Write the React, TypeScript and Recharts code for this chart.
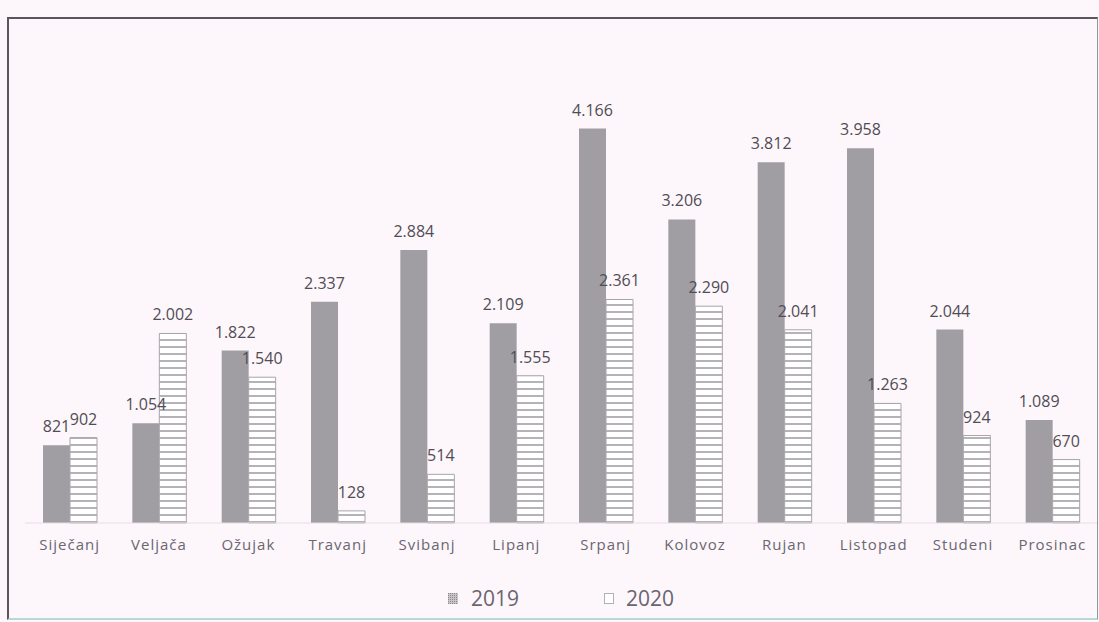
import { BarChart, Bar, XAxis, YAxis, LabelList, Legend } from 'recharts'

const months = ['Siječanj', 'Veljača', 'Ožujak', 'Travanj', 'Svibanj', 'Lipanj', 'Srpanj', 'Kolovoz', 'Rujan', 'Listopad', 'Studeni', 'Prosinac']
const values2019 = [821, 1054, 1822, 2337, 2884, 2109, 4166, 3206, 3812, 3958, 2044, 1089]
const values2020 = [902, 2002, 1540, 128, 514, 1555, 2361, 2290, 2041, 1263, 924, 670]
const yDomain = [0, 4500]

const data = months.map((month, i) => ({
  month,
  y2019: values2019[i],
  y2020: values2020[i],
}))

const FONT = '"Open Sans", "DejaVu Sans", sans-serif'
const BG = '#fdf7fb'
const GREY = '#a09da3'

// 1234 -> "1.234"
const formatValue = (v: number) => String(v).replace(/\B(?=(\d{3})+(?!\d))/g, '.')

const LegendContent = () => (
  <div style={{ display: 'flex', justifyContent: 'center', alignItems: 'center', gap: 85, fontFamily: FONT, fontSize: 21, color: '#6a6570' }}>
    <div style={{ display: 'flex', alignItems: 'center', gap: 13 }}>
      <svg width={10} height={11}>
        <rect x={0} y={0} width={10} height={11} fill="url(#dots2019)" />
      </svg>
      <span>2019</span>
    </div>
    <div style={{ display: 'flex', alignItems: 'center', gap: 12 }}>
      <svg width={10} height={11}>
        <rect x={0.5} y={0.5} width={9} height={10} fill="#fff" stroke="#b5b0b5" />
      </svg>
      <span>2020</span>
    </div>
  </div>
)

export default function App() {
  return (
    <div style={{ position: 'absolute', left: 0, top: 0, width: 1099, height: 622, background: BG }}>
      <div
        style={{
          position: 'absolute',
          left: 7,
          top: 17,
          width: 1088,
          height: 599,
          borderTop: '2px solid #5a575c',
          borderLeft: '2px solid #5a575c',
          borderRight: '1px solid #8a9a9a',
          borderBottom: '2px solid #b8d8d4',
          overflow: 'hidden',
        }}
      >
        <BarChart
          width={1088}
          height={599}
          data={data}
          margin={{ top: 78, right: 0, left: 16, bottom: 65 }}
          barGap={0}
          barSize={27}
        >
          <defs>
            <pattern id="stripes2020" patternUnits="userSpaceOnUse" width={10} height={7}>
              <rect x={0} y={0} width={10} height={7} fill="#ffffff" />
              <line x1={0} y1={6} x2={10} y2={6} stroke="#9e9aa0" strokeWidth={1.5} />
            </pattern>
            <pattern id="dots2019" patternUnits="userSpaceOnUse" width={2} height={2}>
              <rect x={0} y={0} width={2} height={2} fill="#c8c4c8" />
              <rect x={0} y={0} width={1} height={1} fill="#8a878c" />
            </pattern>
          </defs>
          <XAxis
            dataKey="month"
            height={30}
            tickLine={false}
            tickSize={0}
            tickMargin={16}
            axisLine={{ stroke: '#e6dde2' }}
            tick={{ fill: '#6b6670', fontSize: 15, fontFamily: FONT, letterSpacing: 1 }}
            interval={0}
          />
          <YAxis hide domain={yDomain} />
          <Legend
            verticalAlign="middle"
            layout="horizontal"
            align="center"
            content={<LegendContent />}
            wrapperStyle={{ top: 565, left: 16, width: 1072 }}
          />
          <Bar dataKey="y2019" name="2019" fill={GREY} isAnimationActive={false}>
            <LabelList
              dataKey="y2019"
              position="top"
              offset={13}
              formatter={(v: any) => formatValue(Number(v))}
              style={{ fill: '#514c55', fontSize: 16, fontFamily: FONT }}
            />
          </Bar>
          <Bar dataKey="y2020" name="2020" fill="url(#stripes2020)" stroke="#a8a4aa" strokeWidth={1} isAnimationActive={false}>
            <LabelList
              dataKey="y2020"
              position="top"
              offset={13}
              formatter={(v: any) => formatValue(Number(v))}
              style={{ fill: '#514c55', fontSize: 16, fontFamily: FONT }}
            />
          </Bar>
        </BarChart>
      </div>
    </div>
  )
}
